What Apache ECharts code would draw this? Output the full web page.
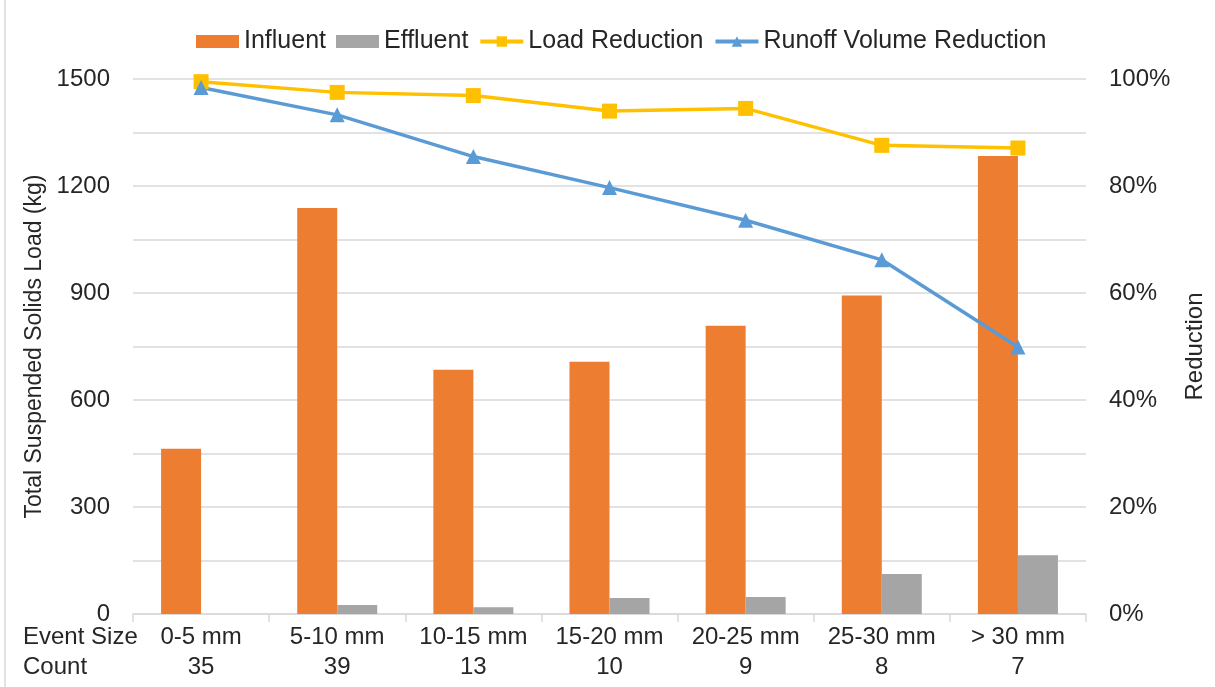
<!DOCTYPE html>
<html>
<head>
<meta charset="utf-8">
<script src="https://cdn.jsdelivr.net/npm/echarts@6/dist/echarts.min.js"></script>
<style>
html,body{margin:0;padding:0;background:#fff;}
#chart{width:1215px;height:687px;}
</style>
</head>
<body>
<div id="chart"></div>
<script>
const categories = ['0-5 mm', '5-10 mm', '10-15 mm', '15-20 mm', '20-25 mm', '25-30 mm', '> 30 mm'];
const counts = [35, 39, 13, 10, 9, 8, 7];
const influent = [463, 1138, 685, 707, 808, 893, 1284];
const effluent = [0, 25, 19, 45, 48, 112, 165];
const loadReduction = [99.5, 97.5, 96.9, 94.0, 94.5, 87.6, 87.1];
const runoffReduction = [98.4, 93.3, 85.5, 79.7, 73.6, 66.2, 49.9];
const leftTicks = [0, 300, 600, 900, 1200, 1500];
const rightTicks = [0, 20, 40, 60, 80, 100];

const FONT = 'Liberation Sans, Arial, sans-serif';
const TXT = '#262626';

const chart = echarts.init(document.getElementById('chart'), null, {renderer: 'canvas'});
chart.setOption({
  animation: false,
  textStyle: {fontFamily: FONT},
  grid: {left: 133, right: 118, top: 79, bottom: 73, containLabel: false},
  legend: {
    left: 191, top: 24,
    itemWidth: 43, itemHeight: 13, itemGap: 10,
    textStyle: {fontSize: 25, color: TXT, fontFamily: FONT},
    lineStyle: {width: 4},
    data: [
      {name: 'Influent', icon: 'rect'},
      {name: 'Effluent', icon: 'rect'},
      {name: 'Load Reduction'},
      {name: 'Runoff Volume Reduction'}
    ]
  },
  xAxis: {
    type: 'category',
    data: categories,
    boundaryGap: true,
    axisLine: {lineStyle: {color: '#d9d9d9', width: 1.5}},
    axisTick: {show: true, length: 8, interval: 0, lineStyle: {color: '#d9d9d9', width: 1.5}},
    axisLabel: {
      interval: 0, margin: 8, fontSize: 24, color: TXT, lineHeight: 30, fontFamily: FONT,
      formatter: (v, i) => v + '\n' + counts[i]
    }
  },
  yAxis: [{
    type: 'value', min: 0, max: 1500, interval: 150,
    name: 'Total Suspended Solids Load (kg)',
    nameLocation: 'middle', nameGap: 86, nameRotate: 90,
    nameTextStyle: {fontSize: 23, color: TXT, fontFamily: FONT},
    axisLine: {show: false}, axisTick: {show: false},
    axisLabel: {margin: 23, fontSize: 24, color: TXT, fontFamily: FONT,
      formatter: v => leftTicks.indexOf(v) >= 0 ? String(v) : ''},
    splitLine: {lineStyle: {color: '#d9d9d9', width: 1.5}}
  }, {
    type: 'value', min: 0, max: 100, interval: 10,
    name: 'Reduction',
    nameLocation: 'middle', nameGap: 97, nameRotate: 90,
    nameTextStyle: {fontSize: 24, color: TXT, fontFamily: FONT},
    axisLine: {show: false}, axisTick: {show: false},
    axisLabel: {margin: 23, fontSize: 24, color: TXT, fontFamily: FONT,
      formatter: v => rightTicks.indexOf(Math.round(v)) >= 0 ? Math.round(v) + '%' : ''},
    splitLine: {show: false}
  }],
  graphic: [
    {type: 'text', left: 23, top: 622, style: {text: 'Event Size\nCount', font: '24px ' + FONT, fill: TXT, lineHeight: 30}},
    {type: 'line', shape: {x1: 5, y1: 0, x2: 5, y2: 687}, style: {stroke: '#d9d9d9', lineWidth: 1.5}}
  ],
  series: [{
    name: 'Influent', type: 'bar', data: influent, yAxisIndex: 0,
    barWidth: 40, barGap: '0%', itemStyle: {color: '#ED7D31'}
  }, {
    name: 'Effluent', type: 'bar', data: effluent, yAxisIndex: 0,
    barWidth: 40, barGap: '0%', itemStyle: {color: '#A5A5A5'}
  }, {
    name: 'Load Reduction', type: 'line', data: loadReduction, yAxisIndex: 1,
    symbol: 'rect', symbolSize: 15, z: 5,
    lineStyle: {color: '#FFC000', width: 3.5}, itemStyle: {color: '#FFC000'}
  }, {
    name: 'Runoff Volume Reduction', type: 'line', data: runoffReduction, yAxisIndex: 1,
    symbol: 'triangle', symbolSize: 15, z: 5,
    lineStyle: {color: '#5B9BD5', width: 3.5}, itemStyle: {color: '#5B9BD5'}
  }]
});
</script>
</body>
</html>
